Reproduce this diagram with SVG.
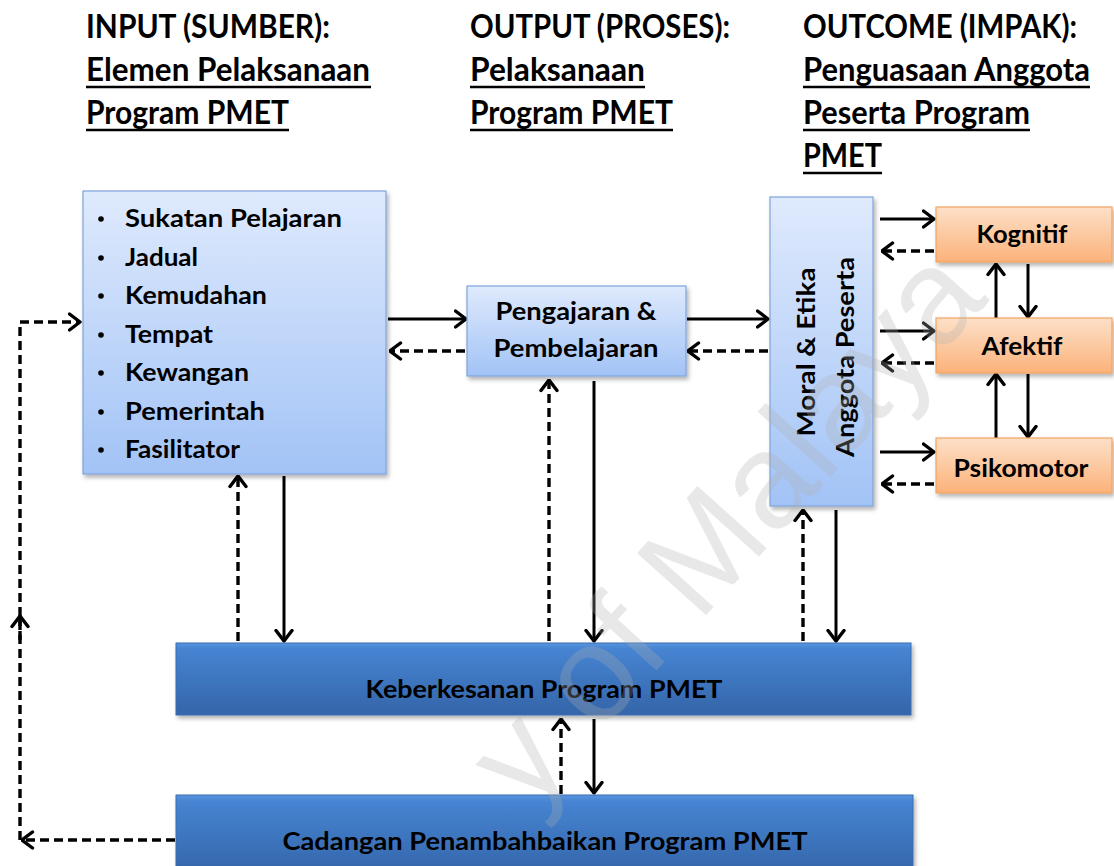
<svg xmlns="http://www.w3.org/2000/svg" width="1114" height="866" viewBox="0 0 1114 866">
  <defs>
    <linearGradient id="gLight" x1="0" y1="0" x2="0" y2="1">
      <stop offset="0" stop-color="#dfeafd"/>
      <stop offset="1" stop-color="#a2c3f6"/>
    </linearGradient>
    <linearGradient id="gOrange" x1="0" y1="0" x2="0" y2="1">
      <stop offset="0" stop-color="#fde0c8"/>
      <stop offset="1" stop-color="#fbb27a"/>
    </linearGradient>
    <linearGradient id="gDark" x1="0" y1="0" x2="0" y2="1">
      <stop offset="0" stop-color="#5a95dc"/>
      <stop offset="0.08" stop-color="#4684d2"/>
      <stop offset="1" stop-color="#3465a9"/>
    </linearGradient>
    <filter id="shadow" x="-10%" y="-10%" width="125%" height="130%">
      <feDropShadow dx="2" dy="3" stdDeviation="2" flood-color="#000" flood-opacity="0.3"/>
    </filter>
    <marker id="arr" viewBox="0 0 14 20" refX="12.5" refY="10" markerWidth="14" markerHeight="20" markerUnits="userSpaceOnUse" orient="auto">
      <path d="M2,2 L12.5,10 L2,18" fill="none" stroke="#000" stroke-width="3.4" stroke-linecap="round" stroke-linejoin="round"/>
    </marker>
  </defs>
  <style>
    .hd { font-family: Lato, "Liberation Sans", sans-serif; font-weight: bold; font-size: 32px; fill: #000; }
    .bx { font-family: Lato, "Liberation Sans", sans-serif; font-weight: bold; font-size: 25px; fill: #000; }
    .ul { stroke: #000; stroke-width: 2.5; }
    .light { fill: url(#gLight); stroke: #7fa3da; stroke-width: 1.2; }
    .orange { fill: url(#gOrange); stroke: #f2a460; stroke-width: 1.2; }
    .dark { fill: url(#gDark); stroke: #3a6db3; stroke-width: 1; }
    .solid { stroke: #000; stroke-width: 3; fill: none; marker-end: url(#arr); }
    .dash { stroke: #000; stroke-width: 3.4; fill: none; stroke-dasharray: 9 5; marker-end: url(#arr); }
    .dashnm { stroke: #000; stroke-width: 3.4; fill: none; stroke-dasharray: 9 5; }
    .wm { font-family: "Liberation Sans", Arial, sans-serif; font-size: 135px; fill: #b0b0b0; opacity: 0.28; }
  </style>
  <rect width="1114" height="866" fill="#fff"/>

  <g id="headers">
    <text class="hd" x="86" y="38" textLength="244" lengthAdjust="spacingAndGlyphs">INPUT (SUMBER):</text>
    <text class="hd" x="86" y="81" textLength="284" lengthAdjust="spacingAndGlyphs">Elemen Pelaksanaan</text>
    <text class="hd" x="86" y="124" textLength="203" lengthAdjust="spacingAndGlyphs">Program PMET</text>
    <line class="ul" x1="86" y1="87" x2="371" y2="87"/>
    <line class="ul" x1="86" y1="130" x2="289" y2="130"/>

    <text class="hd" x="470" y="38" textLength="260" lengthAdjust="spacingAndGlyphs">OUTPUT (PROSES):</text>
    <text class="hd" x="470" y="81" textLength="175" lengthAdjust="spacingAndGlyphs">Pelaksanaan</text>
    <text class="hd" x="470" y="124" textLength="203" lengthAdjust="spacingAndGlyphs">Program PMET</text>
    <line class="ul" x1="470" y1="87" x2="645" y2="87"/>
    <line class="ul" x1="470" y1="130" x2="673" y2="130"/>

    <text class="hd" x="803" y="38" textLength="274" lengthAdjust="spacingAndGlyphs">OUTCOME (IMPAK):</text>
    <text class="hd" x="803" y="81" textLength="287" lengthAdjust="spacingAndGlyphs">Penguasaan Anggota</text>
    <text class="hd" x="803" y="124" textLength="227" lengthAdjust="spacingAndGlyphs">Peserta Program</text>
    <text class="hd" x="803" y="167" textLength="79" lengthAdjust="spacingAndGlyphs">PMET</text>
    <line class="ul" x1="803" y1="87" x2="1090" y2="87"/>
    <line class="ul" x1="803" y1="130" x2="1030" y2="130"/>
    <line class="ul" x1="803" y1="173" x2="882" y2="173"/>
  </g>

  <g id="connectors">
    <line class="solid" x1="388" y1="319" x2="466" y2="319"/>
    <line class="dash" x1="465" y1="351" x2="390" y2="351"/>
    <line class="solid" x1="687" y1="319" x2="768" y2="319"/>
    <line class="dash" x1="768" y1="351" x2="688" y2="351"/>
    <line class="solid" x1="880" y1="219" x2="934" y2="219"/>
    <line class="dash" x1="934" y1="251" x2="882" y2="251"/>
    <line class="solid" x1="880" y1="331" x2="934" y2="331"/>
    <line class="dash" x1="934" y1="363" x2="882" y2="363"/>
    <line class="solid" x1="880" y1="452" x2="934" y2="452"/>
    <line class="dash" x1="934" y1="484" x2="882" y2="484"/>
    <line class="solid" x1="996" y1="318" x2="996" y2="264"/>
    <line class="solid" x1="1028" y1="264" x2="1028" y2="317"/>
    <line class="solid" x1="996" y1="438" x2="996" y2="374"/>
    <line class="solid" x1="1028" y1="374" x2="1028" y2="437"/>
    <line class="dash" x1="238" y1="641" x2="238" y2="476"/>
    <line class="solid" x1="284" y1="476" x2="284" y2="641"/>
    <line class="dash" x1="549" y1="641" x2="549" y2="380"/>
    <line class="solid" x1="594" y1="381" x2="594" y2="641"/>
    <line class="dash" x1="803" y1="641" x2="803" y2="510"/>
    <line class="solid" x1="836" y1="510" x2="836" y2="641"/>
    <line class="dash" x1="561" y1="794" x2="561" y2="719"/>
    <line class="solid" x1="594" y1="719" x2="594" y2="793"/>
    <line class="dash" x1="175" y1="840" x2="22" y2="840"/>
    <line class="dashnm" x1="20" y1="840" x2="20" y2="618"/>
    <line class="dash" x1="20" y1="640" x2="20" y2="616"/>
    <polyline class="dash" points="20,616 20,322 80,322"/>
  </g>

  <g id="node-input">
    <rect class="light" x="83" y="191" width="303" height="283" filter="url(#shadow)"/>
    <g fill="#000">
      <circle cx="101" cy="219" r="2.8"/>
      <circle cx="101" cy="258" r="2.8"/>
      <circle cx="101" cy="296" r="2.8"/>
      <circle cx="101" cy="335" r="2.8"/>
      <circle cx="101" cy="373" r="2.8"/>
      <circle cx="101" cy="412" r="2.8"/>
      <circle cx="101" cy="450" r="2.8"/>
    </g>
    <text class="bx" x="125" y="227" textLength="217" lengthAdjust="spacingAndGlyphs">Sukatan  Pelajaran</text>
    <text class="bx" x="125" y="266" textLength="73" lengthAdjust="spacingAndGlyphs">Jadual</text>
    <text class="bx" x="125" y="304" textLength="142" lengthAdjust="spacingAndGlyphs">Kemudahan</text>
    <text class="bx" x="125" y="343" textLength="88" lengthAdjust="spacingAndGlyphs">Tempat</text>
    <text class="bx" x="125" y="381" textLength="124" lengthAdjust="spacingAndGlyphs">Kewangan</text>
    <text class="bx" x="125" y="420" textLength="140" lengthAdjust="spacingAndGlyphs">Pemerintah</text>
    <text class="bx" x="125" y="458" textLength="115" lengthAdjust="spacingAndGlyphs">Fasilitator</text>
  </g>

  <g id="node-pengajaran">
    <rect class="light" x="467" y="286" width="219" height="90" filter="url(#shadow)"/>
    <text class="bx" x="576" y="320" text-anchor="middle" textLength="161" lengthAdjust="spacingAndGlyphs">Pengajaran &amp;</text>
    <text class="bx" x="576" y="357" text-anchor="middle" textLength="165" lengthAdjust="spacingAndGlyphs">Pembelajaran</text>
  </g>

  <g id="node-moral">
    <rect class="light" x="770" y="197" width="103" height="309" filter="url(#shadow)"/>
    <text class="bx" transform="translate(815,352) rotate(-90)" x="0" y="0" text-anchor="middle" textLength="169" lengthAdjust="spacingAndGlyphs">Moral &amp; Etika</text>
    <text class="bx" transform="translate(854,357) rotate(-90)" x="0" y="0" text-anchor="middle" textLength="200" lengthAdjust="spacingAndGlyphs">Anggota Peserta</text>
  </g>

  <g id="node-kognitif">
    <rect class="orange" x="936" y="207" width="176" height="55" filter="url(#shadow)"/>
    <text class="bx" x="1022" y="243" text-anchor="middle" textLength="91" lengthAdjust="spacingAndGlyphs">Kognitif</text>
  </g>
  <g id="node-afektif">
    <rect class="orange" x="936" y="318" width="176" height="55" filter="url(#shadow)"/>
    <text class="bx" x="1022" y="355" text-anchor="middle" textLength="81" lengthAdjust="spacingAndGlyphs">Afektif</text>
  </g>
  <g id="node-psikomotor">
    <rect class="orange" x="936" y="438" width="176" height="55" filter="url(#shadow)"/>
    <text class="bx" x="1021" y="477" text-anchor="middle" textLength="135" lengthAdjust="spacingAndGlyphs">Psikomotor</text>
  </g>

  <g id="node-keberkesanan">
    <rect class="dark" x="176" y="643" width="735" height="72" filter="url(#shadow)"/>
    <text class="bx" x="544" y="698" text-anchor="middle" textLength="357" lengthAdjust="spacingAndGlyphs">Keberkesanan Program  PMET</text>
  </g>

  <g id="node-cadangan">
    <rect class="dark" x="176" y="795" width="737" height="80" filter="url(#shadow)"/>
    <text class="bx" x="545" y="850" text-anchor="middle" textLength="525" lengthAdjust="spacingAndGlyphs">Cadangan  Penambahbaikan  Program PMET</text>
  </g>

  <g id="watermark">
    <text class="wm" transform="translate(990,300) rotate(-48)" x="0" y="0" text-anchor="end">y of Malaya</text>
  </g>
</svg>
